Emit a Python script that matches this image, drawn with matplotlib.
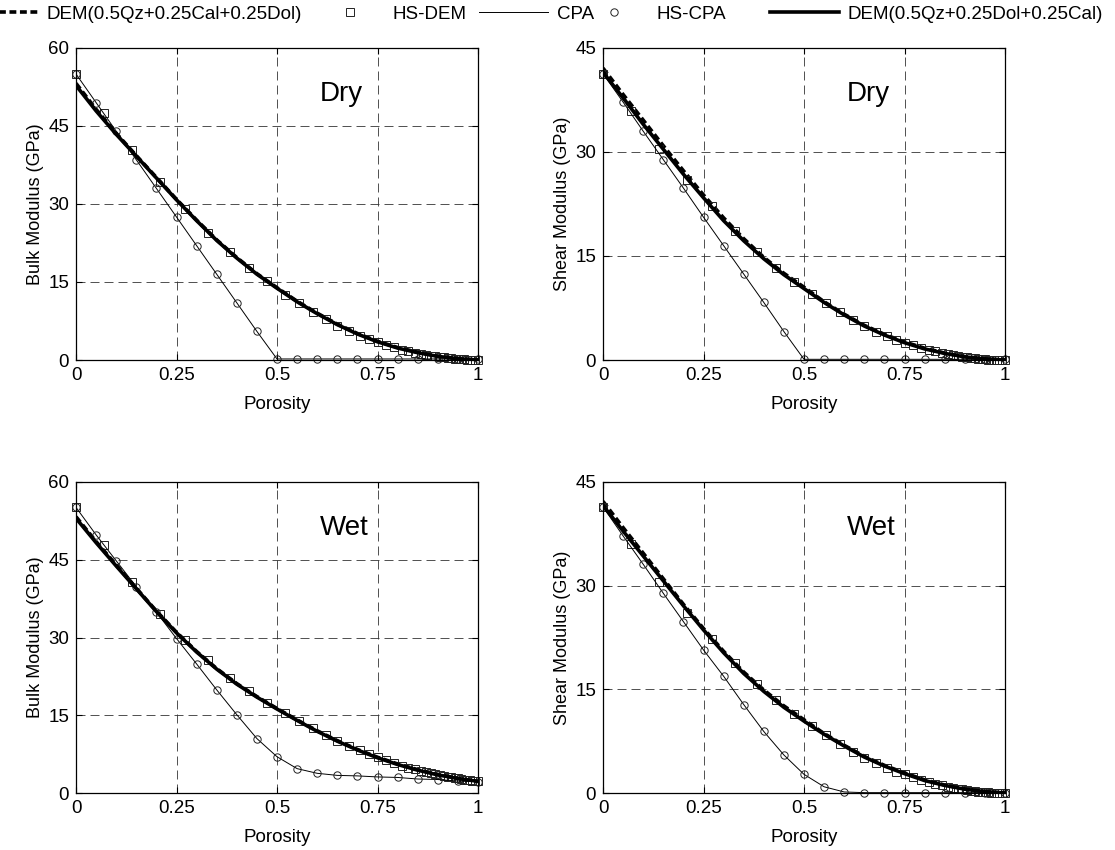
import matplotlib
matplotlib.use("Agg")
import matplotlib.pyplot as plt

plt.rcParams['font.family'] = ['Liberation Sans', 'DejaVu Sans']

# ---------------- data ----------------
phi_dem = [0, 0.05, 0.1, 0.15, 0.2, 0.25, 0.3, 0.35, 0.4, 0.45, 0.5,
           0.55, 0.6, 0.65, 0.7, 0.75, 0.8, 0.85, 0.9, 0.95, 1.0]
phi_cpa = phi_dem
phi_hs = [0, 0.069, 0.139, 0.208, 0.272, 0.328, 0.382, 0.43, 0.475, 0.52,
          0.555, 0.589, 0.622, 0.65, 0.679, 0.706, 0.729, 0.751, 0.772, 0.79,
          0.81, 0.826, 0.843, 0.857, 0.87, 0.882, 0.894, 0.905, 0.915, 0.925,
          0.934, 0.942, 0.95, 0.958, 0.965, 0.972, 0.979, 0.986, 0.993, 1.0]

# Dry bulk
dry_k_dem_cal = [53.2, 48.2, 43.6, 39.3, 35.1, 30.9, 26.9, 23.1, 19.7, 16.6, 13.9,
                 11.3, 9.0, 6.9, 5.1, 3.6, 2.4, 1.5, 0.75, 0.28, 0]
dry_k_dem_dol = [52.8, 47.9, 43.4, 39.2, 35.0, 30.8, 26.8, 23.0, 19.6, 16.5, 13.8,
                 11.2, 8.9, 6.8, 5.0, 3.5, 2.3, 1.4, 0.7, 0.25, 0]
dry_k_hsdem = [55, 47.5, 40.3, 34.3, 29.0, 24.4, 20.8, 17.6, 15.1, 12.5,
               10.9, 9.3, 7.8, 6.6, 5.6, 4.7, 4.0, 3.4, 2.9, 2.5,
               2.0, 1.7, 1.4, 1.2, 1.0, 0.85, 0.7, 0.6, 0.5, 0.4,
               0.33, 0.27, 0.21, 0.16, 0.12, 0.09, 0.06, 0.03, 0.01, 0]
dry_k_cpa = [55, 49.5, 44.0, 38.5, 33.0, 27.5, 22.0, 16.5, 11.0, 5.5, 0.2,
             0.2, 0.2, 0.2, 0.2, 0.2, 0.2, 0.2, 0.2, 0.2, 0.2]

# Dry shear
dry_g_dem_cal = [42.1, 38.3, 34.6, 30.9, 27.3, 23.8, 20.5, 17.5, 14.8, 12.5, 10.5,
                 8.4, 6.6, 5.0, 3.7, 2.6, 1.7, 1.0, 0.5, 0.17, 0]
dry_g_dem_dol = [41.5, 37.8, 34.0, 30.4, 26.8, 23.4, 20.1, 17.2, 14.6, 12.3, 10.3,
                 8.3, 6.5, 4.9, 3.6, 2.5, 1.6, 0.95, 0.45, 0.15, 0]
dry_g_hsdem = [41.3, 35.9, 30.5, 26.0, 22.2, 18.6, 15.6, 13.2, 11.3, 9.5,
               8.2, 6.9, 5.8, 4.9, 4.1, 3.4, 2.9, 2.5, 2.1, 1.8,
               1.5, 1.25, 1.0, 0.85, 0.7, 0.58, 0.47, 0.38, 0.3, 0.23,
               0.18, 0.14, 0.1, 0.07, 0.05, 0.03, 0.02, 0.01, 0.0, 0]
dry_g_cpa = [41.3, 37.2, 33.0, 28.9, 24.8, 20.6, 16.5, 12.4, 8.3, 4.1, 0.1,
             0.1, 0.1, 0.1, 0.1, 0.1, 0.1, 0.1, 0.1, 0.1, 0.1]

# Wet bulk
wet_k_dem_cal = [53.3, 48.5, 44.0, 39.5, 35.1, 31.0, 27.3, 24.0, 21.1, 18.6, 16.3,
                 14.1, 12.0, 10.1, 8.4, 6.9, 5.6, 4.5, 3.6, 2.85, 2.25]
wet_k_dem_dol = [53.0, 48.3, 43.8, 39.4, 35.0, 30.9, 27.2, 23.9, 21.0, 18.5, 16.2,
                 14.0, 11.9, 10.0, 8.3, 6.8, 5.5, 4.4, 3.5, 2.8, 2.25]
wet_k_hsdem = [55.1, 47.9, 40.8, 34.6, 29.5, 25.6, 22.2, 19.6, 17.4, 15.4,
               13.9, 12.5, 11.2, 10.1, 9.1, 8.2, 7.5, 6.9, 6.3, 5.8,
               5.3, 4.9, 4.6, 4.3, 4.0, 3.8, 3.6, 3.4, 3.3, 3.15,
               3.0, 2.9, 2.8, 2.7, 2.6, 2.5, 2.45, 2.35, 2.3, 2.25]
wet_k_cpa = [55.1, 49.8, 44.8, 39.8, 34.9, 29.8, 24.9, 19.9, 15.1, 10.5, 7.0,
             4.7, 3.8, 3.4, 3.3, 3.1, 3.0, 2.7, 2.6, 2.3, 2.2]

# Wet shear
wet_g_dem_cal = [42.2, 38.4, 34.7, 31.0, 27.3, 23.8, 20.5, 17.5, 14.9, 12.6, 10.6,
                 8.6, 6.9, 5.3, 4.0, 2.9, 1.9, 1.15, 0.6, 0.22, 0]
wet_g_dem_dol = [41.6, 37.9, 34.3, 30.7, 27.1, 23.6, 20.3, 17.3, 14.7, 12.4, 10.4,
                 8.5, 6.8, 5.2, 3.9, 2.8, 1.8, 1.1, 0.55, 0.2, 0]
wet_g_hsdem = [41.4, 36.0, 30.6, 26.0, 22.3, 18.8, 15.8, 13.4, 11.5, 9.7,
               8.4, 7.1, 6.0, 5.1, 4.3, 3.6, 3.1, 2.7, 2.3, 1.95,
               1.6, 1.35, 1.1, 0.92, 0.77, 0.64, 0.52, 0.42, 0.34, 0.26,
               0.2, 0.15, 0.11, 0.08, 0.06, 0.04, 0.02, 0.01, 0.0, 0]
wet_g_cpa = [41.4, 37.2, 33.1, 28.9, 24.8, 20.7, 16.9, 12.8, 8.9, 5.5, 2.7,
             0.9, 0.15, 0.05, 0.05, 0.05, 0.05, 0.05, 0.05, 0.05, 0.05]

x_ticks = [0, 0.25, 0.5, 0.75, 1]
x_ticklabels = ['0', '0.25', '0.5', '0.75', '1']
k_ticks = [0, 15, 30, 45, 60]
g_ticks = [0, 15, 30, 45]

labels = ['DEM(0.5Qz+0.25Cal+0.25Dol)', 'HS-DEM', 'CPA', 'HS-CPA',
          'DEM(0.5Qz+0.25Dol+0.25Cal)']

panels = [
    ([76/1115, 1-360/850, 402/1115, 312/850], dry_k_dem_cal, dry_k_hsdem, dry_k_cpa,
     dry_k_dem_dol, k_ticks, 'Bulk Modulus (GPa)', 'Dry'),
    ([603/1115, 1-360/850, 402/1115, 312/850], dry_g_dem_cal, dry_g_hsdem, dry_g_cpa,
     dry_g_dem_dol, g_ticks, 'Shear Modulus (GPa)', 'Dry'),
    ([76/1115, 1-793/850, 402/1115, 311/850], wet_k_dem_cal, wet_k_hsdem, wet_k_cpa,
     wet_k_dem_dol, k_ticks, 'Bulk Modulus (GPa)', 'Wet'),
    ([603/1115, 1-793/850, 402/1115, 311/850], wet_g_dem_cal, wet_g_hsdem, wet_g_cpa,
     wet_g_dem_dol, g_ticks, 'Shear Modulus (GPa)', 'Wet'),
]

FS = 13.5
fig = plt.figure(figsize=(11.15, 8.5), dpi=100)
handles = None
for rect, dcal, hs, cpa, ddol, yt, ylab, state in panels:
    ax = fig.add_axes(rect)
    h1, = ax.plot(phi_dem, dcal, color='k', lw=2.6, linestyle=(0, (1.9, 1.0)),
                  dash_capstyle='butt')
    h2, = ax.plot(phi_hs, hs, linestyle='none', marker='s', markersize=5.8,
                  mfc='none', mec='#222222', mew=0.7, clip_on=False)
    h3, = ax.plot(phi_cpa, cpa, color='k', lw=0.7)
    h4, = ax.plot(phi_cpa, cpa, linestyle='none', marker='o', markersize=5.3,
                  mfc='none', mec='#222222', mew=0.7, clip_on=False)
    h5, = ax.plot(phi_dem, ddol, color='k', lw=2.6)
    handles = [h1, h2, h3, h4, h5]

    ax.set_xlim(0, 1)
    ax.set_ylim(yt[0], yt[-1])
    ax.set_xticks(x_ticks)
    ax.set_xticklabels(x_ticklabels)
    ax.set_yticks(yt)
    ax.set_yticklabels([str(v) for v in yt])
    ax.tick_params(direction='in', length=4, width=0.8, top=True, right=True,
                   labelsize=FS, pad=5)
    ax.grid(True, color='#333333', linestyle=(0, (10.8, 6.0)), linewidth=0.6)
    for s in ax.spines.values():
        s.set_linewidth(0.9)
    ax.set_xlabel('Porosity', fontsize=FS, labelpad=9)
    ax.set_ylabel(ylab, fontsize=13, labelpad=3)
    ax.text(0.607, 0.853, state, transform=ax.transAxes, fontsize=20,
            ha='left', va='center')

# legend: one entry per slot along the top edge (handle start in pixels)
slot_px = [-31, 315, 479, 579, 770]
for h, lab, xs in zip(handles, labels, slot_px):
    fig.legend([h], [lab], loc='center left', bbox_to_anchor=(xs / 1115, 0.983),
               frameon=False, fontsize=FS, handlelength=3.7, handletextpad=0.45,
               borderpad=0.0, borderaxespad=0.0)

fig.savefig('out.png', dpi=100)
